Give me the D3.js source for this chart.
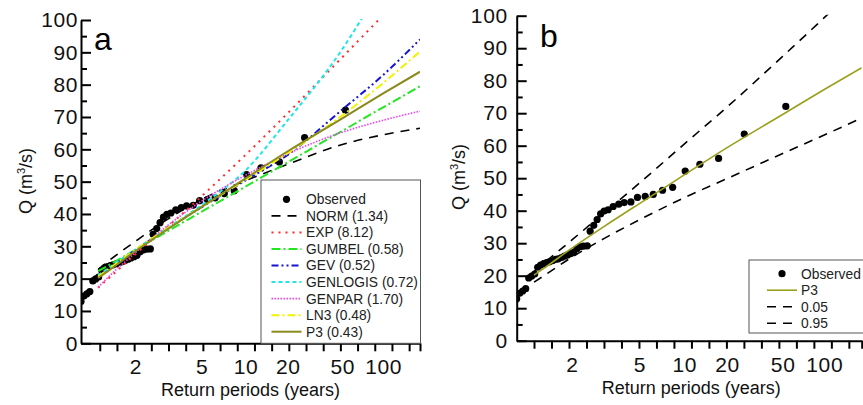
<!DOCTYPE html>
<html><head><meta charset="utf-8">
<script src="https://cdn.jsdelivr.net/npm/d3@7"></script>
<style>
html,body{margin:0;padding:0;background:#fff;}
svg{display:block;font-family:"Liberation Sans",Arial,sans-serif;}
</style></head><body>
<svg id="chart" width="863" height="405"></svg>
<script>
// ---------- data ----------
const returnPeriodLabels = [2, 5, 10, 20, 50, 100];
const yTickValues = [0, 10, 20, 30, 40, 50, 60, 70, 80, 90, 100];
const returnPeriodDomain = [1.21, 187];

// observed annual maxima (return period, discharge)
const obsT = [52.7, 26.5, 17.4, 12.85, 10.16, 8.33, 7.11, 6.16, 5.45, 4.85, 4.40, 3.99, 3.69, 3.41, 3.18, 3.01, 2.87, 2.74, 2.62, 2.50,
  2.41, 2.30, 2.21, 2.12, 2.04, 1.97, 1.90, 1.84, 1.78, 1.72, 1.67, 1.62, 1.57, 1.53, 1.489, 1.449, 1.412, 1.377, 1.344, 1.314,
  1.285, 1.258, 1.233, 1.21];
const obsQ = [72.1, 63.6, 56.1, 54.3, 52.2, 47.2, 46.3, 45.0, 44.4, 44.1, 42.7, 42.5, 42.0, 41.3, 40.3, 39.9, 39.0, 37.3, 35.5, 33.7,
  29.2, 29.1, 28.9, 28.3, 27.2, 26.8, 26.4, 26.0, 25.6, 25.2, 25.0, 24.6, 24.3, 24.0, 23.7, 23.3, 22.6, 20.5, 19.9, 19.3,
  16.0, 15.3, 14.6, 12.9];

// fitted quantiles at these return periods
const curveT   = [1.37, 1.5, 2, 3, 5, 10, 20, 50, 100, 187];
const normQ    = [22.8, 25.4, 31.5, 38.2, 44.5, 50.3, 55.4, 61.5, 64.5, 66.5];
const expQ     = [17.2, 20.0, 27.5, 35.8, 45.5, 58.3, 71.2, 88.5, 101.5, 113.3];
const gumbelQ  = [22.3, 24.1, 28.9, 34.5, 40.7, 48.5, 56.0, 65.7, 73.0, 79.5];
const gevQ     = [20.6, 22.9, 28.8, 35.3, 42.1, 50.4, 58.3, 72.3, 83.0, 94.0];
const genlogisQ= [21.0, 23.2, 29.0, 35.5, 42.8, 53.5, 69.0, 91.0, 112.0, 135.0];
const genparQ  = [17.3, 20.5, 28.0, 36.2, 44.0, 52.0, 58.6, 65.3, 69.0, 71.8];
const ln3Q     = [20.6, 22.9, 28.9, 35.4, 42.2, 50.6, 58.8, 70.5, 80.5, 90.3];
const p3Q      = [20.2, 22.4, 28.5, 35.1, 42.2, 51.0, 59.4, 69.6, 77.3, 84.0];
const p3Upper  = [21.3, 24.0, 31.0, 39.3, 48.5, 60.5, 71.9, 87.5, 99.4, 110.5];
const p3Lower  = [18.0, 20.1, 25.7, 31.4, 37.2, 44.0, 49.9, 57.6, 63.3, 68.5];

const seriesNamesA = ["NORM (1.34)", "EXP (8.12)", "GUMBEL (0.58)", "GEV (0.52)", "GENLOGIS (0.72)", "GENPAR (1.70)", "LN3 (0.48)", "P3 (0.43)"];
const seriesNamesB = ["P3", "0.05", "0.95"];

// ---------- styles ----------
const styleA = [
  {data: normQ,     color: "#000000", dash: "9,7",          w: 1.6},
  {data: expQ,      color: "#ff2a2a", dash: "2,5",          w: 2},
  {data: gumbelQ,   color: "#22e622", dash: "9,3,2,3",      w: 2},
  {data: gevQ,      color: "#1414d2", dash: "7,3,2,3,2,3",  w: 2},
  {data: genlogisQ, color: "#22e6e6", dash: "4,3",          w: 2},
  {data: genparQ,   color: "#f040f0", dash: "1.5,1.5",      w: 1.6},
  {data: ln3Q,      color: "#f2f200", dash: "8,3,2,3",      w: 2},
  {data: p3Q,       color: "#8a8a1e", dash: null,           w: 2}
];
const styleB = [
  {data: p3Q,     color: "#99a01c", dash: null,  w: 1.6},
  {data: p3Upper, color: "#000000", dash: "9,7", w: 1.6},
  {data: p3Lower, color: "#000000", dash: "9,7", w: 1.6}
];

// ---------- helpers ----------
const gumbelVariate = T => -Math.log(-Math.log(1 - 1 / T));
const svg = d3.select("#chart");
const FONT = '"Liberation Sans", Arial, sans-serif';

function panel(cfg) {
  const {pL, pR, pT, pB, id} = cfg;
  const xs = d3.scaleLinear().domain(returnPeriodDomain.map(gumbelVariate)).range([pL, pR]);
  const ys = d3.scaleLinear().domain([0, 100]).range([pB, pT]);
  const g = svg.append("g");

  svg.append("clipPath").attr("id", "clip" + id)
    .append("rect").attr("x", pL).attr("y", pT - 1).attr("width", pR - pL).attr("height", pB - pT + 1);

  // y axis: minor ticks
  const minorY = d3.range(5, 100, 10);
  g.append("g").attr("transform", `translate(${pL},0)`)
    .call(d3.axisLeft(ys).tickValues(minorY).tickSize(-6).tickSizeOuter(0).tickFormat(""))
    .call(a => a.select(".domain").remove())
    .call(a => a.selectAll("line").attr("stroke", "#000").attr("stroke-width", 2));
  // y axis: major ticks & labels
  g.append("g").attr("transform", `translate(${pL},0)`)
    .call(d3.axisLeft(ys).tickValues(yTickValues).tickSize(-10).tickSizeOuter(0).tickPadding(cfg.yPad))
    .call(a => a.select(".domain").attr("stroke", "#000").attr("stroke-width", 2))
    .call(a => a.selectAll("line").attr("stroke", "#000").attr("stroke-width", 2))
    .call(a => a.selectAll("text").attr("font-size", cfg.yFont).attr("font-family", FONT)
      .attr("letter-spacing", 0.6).attr("fill", "#111"));

  // x axis: evenly spaced ticks in reduced variate
  const u0 = cfg.tick0, step = 0.2935;
  const minorX = d3.range(0, 19).map(k => u0 + k * step).concat([xs.domain()[1]]);
  g.append("g").attr("transform", `translate(0,${pB})`)
    .call(d3.axisBottom(xs).tickValues(minorX).tickSize(8).tickSizeOuter(0).tickFormat(""))
    .call(a => a.select(".domain").attr("stroke", "#000").attr("stroke-width", 2))
    .call(a => a.selectAll("line").attr("stroke", "#000").attr("stroke-width", 2));
  // x axis labels at return periods
  g.append("g").attr("transform", `translate(0,${pB})`)
    .call(d3.axisBottom(xs).tickValues(returnPeriodLabels.map(gumbelVariate)).tickSize(0).tickPadding(cfg.xPad)
      .tickFormat((d, i) => returnPeriodLabels[i]))
    .call(a => a.select(".domain").remove())
    .call(a => a.selectAll("text").attr("font-size", cfg.xFont).attr("font-family", FONT)
      .attr("letter-spacing", 0.6).attr("fill", "#111"));

  // axis titles
  g.append("text").attr("x", (pL + pR) / 2 + cfg.xtOff).attr("y", cfg.xtY).attr("text-anchor", "middle")
    .attr("font-size", 18).attr("fill", "#111").text("Return periods (years)");
  const yt = g.append("text").attr("transform", `translate(${cfg.ytX},${cfg.ytY}) rotate(-90)`)
    .attr("text-anchor", "middle").attr("font-size", 18).attr("fill", "#111");
  yt.append("tspan").text("Q (m");
  yt.append("tspan").attr("font-size", 11).attr("dy", -7).text("3");
  yt.append("tspan").attr("dy", 7).text("/s)");

  // panel letter
  g.append("text").attr("x", cfg.letterX).attr("y", cfg.letterY).attr("font-size", 32).attr("fill", "#000").text(id);

  return {xs, ys, g};
}

function drawCurves(p, styles, id) {
  const line = d3.line().x((d, i) => p.xs(gumbelVariate(curveT[i]))).y(d => p.ys(d)).curve(d3.curveMonotoneX);
  const cg = p.g.append("g").attr("clip-path", `url(#clip${id})`);
  // observed points
  cg.selectAll("circle").data(obsQ).join("circle")
    .attr("cx", (d, i) => p.xs(gumbelVariate(obsT[i]))).attr("cy", d => p.ys(d)).attr("r", 3.6).attr("fill", "#000");
  styles.forEach(s => {
    cg.append("path").attr("d", line(s.data)).attr("fill", "none").attr("stroke", s.color)
      .attr("stroke-width", s.w).attr("stroke-dasharray", s.dash);
  });
}

function legend(p, x, y, w, h, rowY0, rowH, sx0, sx1, tx, names, styles) {
  const lg = p.g.append("g");
  lg.append("rect").attr("x", x).attr("y", y).attr("width", w).attr("height", h)
    .attr("fill", "#fff").attr("stroke", "#555").attr("stroke-width", 1);
  const all = ["Observed"].concat(names);
  all.forEach((name, i) => {
    const cy = rowY0 + i * rowH;
    if (i === 0) {
      lg.append("circle").attr("cx", (sx0 + sx1) / 2).attr("cy", cy).attr("r", 3.6).attr("fill", "#000");
    } else {
      const s = styles[i - 1];
      lg.append("line").attr("x1", sx0).attr("x2", sx1).attr("y1", cy).attr("y2", cy)
        .attr("stroke", s.color).attr("stroke-width", s.w).attr("stroke-dasharray", s.dash);
    }
    lg.append("text").attr("x", tx).attr("y", cy).attr("dy", "0.36em").attr("font-size", 13.8)
      .attr("fill", "#222").text(name);
  });
}

// ---------- panel a ----------
const pa = panel({id: "a", pL: 81, pR: 420, pT: 20, pB: 343.3, yPad: 3, yFont: 21, xPad: 16, xFont: 21,
  tick0: -0.24, xtOff: 0, xtY: 396, ytX: 32, ytY: 181, letterX: 94, letterY: 50});
drawCurves(pa, styleA, "a");
legend(pa, 261, 180, 159.5, 163.3, 199.3, 16.55, 271.5, 301.5, 306, seriesNamesA, styleA);

// ---------- panel b ----------
const pb = panel({id: "b", pL: 516.7, pR: 861.7, pT: 15.7, pB: 340.7, yPad: 9, yFont: 21, xPad: 16, xFont: 21,
  tick0: -0.27, xtOff: 2, xtY: 394, ytX: 465, ytY: 177, letterX: 540, letterY: 47});
drawCurves(pb, styleB, "b");
legend(pb, 749, 260, 130, 73, 273.7, 16.5, 767, 797, 801, seriesNamesB, styleB);
</script>
</body></html>
